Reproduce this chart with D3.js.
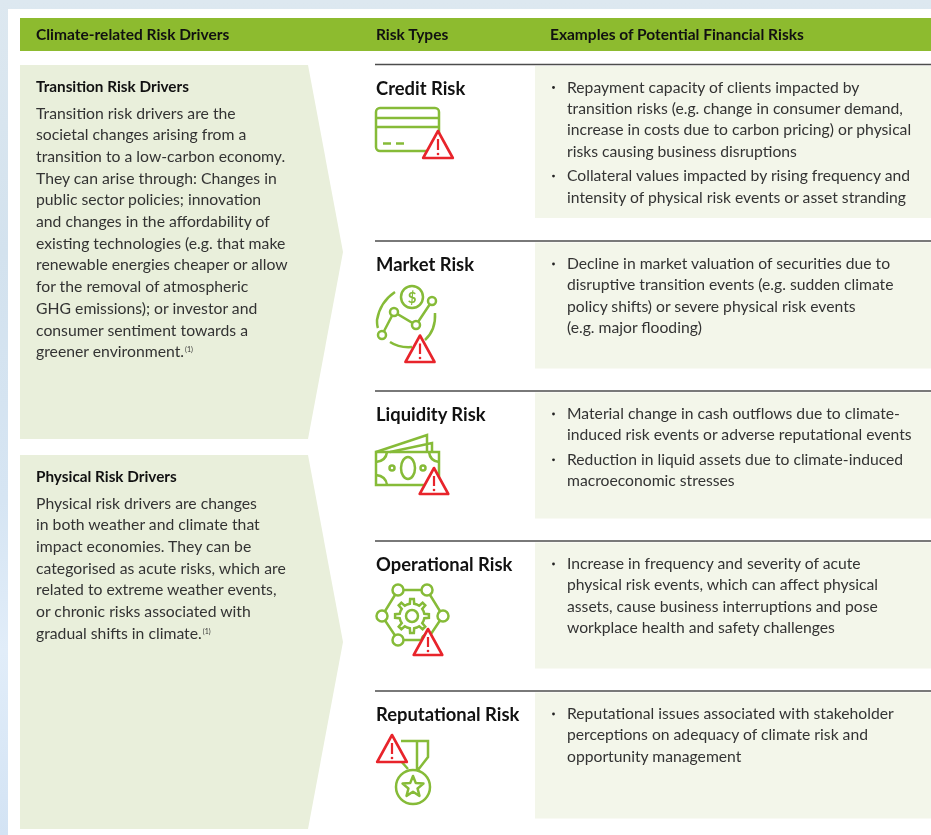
<!DOCTYPE html>
<html>
<head>
<meta charset="utf-8">
<script src="https://cdn.jsdelivr.net/npm/d3@7"></script>
<style>
html, body { margin: 0; padding: 0; background: #fff; overflow: hidden; }
svg { display: block; filter: blur(0.45px); }
text { font-family: Lato, "Noto Sans", sans-serif; }
</style>
</head>
<body>
<svg id="chart" width="931" height="835"></svg>
<script>
const COLUMN_HEADERS = ['Climate-related Risk Drivers', 'Risk Types', 'Examples of Potential Financial Risks'];

const DRIVER_TITLES = ['Transition Risk Drivers', 'Physical Risk Drivers'];
const TRANSITION_LINES = [
    'Transition risk drivers are the',
    'societal changes arising from a',
    'transition to a low-carbon economy.',
    'They can arise through: Changes in',
    'public sector policies; innovation',
    'and changes in the affordability of',
    'existing technologies (e.g. that make',
    'renewable energies cheaper or allow',
    'for the removal of atmospheric',
    'GHG emissions); or investor and',
    'consumer sentiment towards a',
    'greener environment.'
];
const PHYSICAL_LINES = [
    'Physical risk drivers are changes',
    'in both weather and climate that',
    'impact economies. They can be',
    'categorised as acute risks, which are',
    'related to extreme weather events,',
    'or chronic risks associated with',
    'gradual shifts in climate.'
];
const FOOTNOTE = '(1)';

const RISK_TYPES = ['Credit Risk', 'Market Risk', 'Liquidity Risk', 'Operational Risk', 'Reputational Risk'];
// one inner list per bullet
const CREDIT_BULLETS = [
    ['Repayment capacity of clients impacted by',
     'transition risks (e.g. change in consumer demand,',
     'increase in costs due to carbon pricing) or physical',
     'risks causing business disruptions'],
    ['Collateral values impacted by rising frequency and',
     'intensity of physical risk events or asset stranding']
];
const MARKET_BULLETS = [
    ['Decline in market valuation of securities due to',
     'disruptive transition events (e.g. sudden climate',
     'policy shifts) or severe physical risk events',
     '(e.g. major flooding)']
];
const LIQUIDITY_BULLETS = [
    ['Material change in cash outflows due to climate-',
     'induced risk events or adverse reputational events'],
    ['Reduction in liquid assets due to climate-induced',
     'macroeconomic stresses']
];
const OPERATIONAL_BULLETS = [
    ['Increase in frequency and severity of acute',
     'physical risk events, which can affect physical',
     'assets, cause business interruptions and pose',
     'workplace health and safety challenges']
];
const REPUTATIONAL_BULLETS = [
    ['Reputational issues associated with stakeholder',
     'perceptions on adequacy of climate risk and',
     'opportunity management']
];
const RISK_BULLETS = [CREDIT_BULLETS, MARKET_BULLETS, LIQUIDITY_BULLETS, OPERATIONAL_BULLETS, REPUTATIONAL_BULLETS];

const GREEN = '#86bb38';
const RED = '#e8242b';
const TEXT = '#333333';
const DARK = '#111111';

const svg = d3.select('#chart');

// backdrop
const defs = svg.append('defs');
const bg = defs.append('linearGradient').attr('id', 'bg').attr('x1', 0).attr('x2', 0).attr('y1', 0).attr('y2', 1);
[['0%', '#dde8f0'], ['30%', '#d3e2ee'], ['60%', '#d6e5f3'], ['78%', '#e1edf9'], ['100%', '#d3e3f4']].forEach(([o, c]) => {
    bg.append('stop').attr('offset', o).attr('stop-color', c);
});
svg.append('rect').attr('width', 931).attr('height', 835).attr('fill', 'url(#bg)');
svg.append('rect').attr('x', 8).attr('y', 9).attr('width', 923).attr('height', 826).attr('fill', '#fff');

// header bar
svg.append('rect').attr('x', 20).attr('y', 18).attr('width', 911).attr('height', 33).attr('fill', '#8dbb2f');
svg.selectAll('.col-head')
    .data(COLUMN_HEADERS)
    .join('text')
    .attr('class', 'col-head')
    .attr('x', (d, i) => [36, 376, 550][i])
    .attr('y', 40)
    .attr('font-size', 15.5)
    .attr('font-weight', 700)
    .attr('fill', DARK)
    .text(d => d);

// driver arrows
function drawDriver(top, title, lines) {
    const h = 374;
    const g = svg.append('g').attr('transform', `translate(0,${top})`);
    g.append('path')
        .attr('d', `M20,0H308L343,${h / 2}L308,${h}H20Z`)
        .attr('fill', '#e9efdb');
    g.append('text')
        .attr('x', 36).attr('y', 27)
        .attr('font-size', 15.3).attr('font-weight', 700).attr('fill', DARK)
        .text(title);
    const body = g.selectAll('.line').data(lines).join('text')
        .attr('class', 'line')
        .attr('x', 36)
        .attr('y', (d, i) => 53.5 + i * 21.7)
        .attr('font-size', 15.75)
        .attr('fill', TEXT)
        .text(d => d);
    body.filter((d, i) => i === lines.length - 1)
        .append('tspan')
        .attr('dx', 1).attr('dy', -5)
        .attr('font-size', 7)
        .text(FOOTNOTE);
}
drawDriver(65, DRIVER_TITLES[0], TRANSITION_LINES);
drawDriver(455, DRIVER_TITLES[1], PHYSICAL_LINES);

// risk rows
const rowY = [64.5, 241, 391, 541, 691];
const rowH = [152, 126, 126, 126, 126];

function warning(g, cx, top, bottom) {
    const w = (bottom - top) * 0.55;
    g.append('path')
        .attr('d', `M${cx},${top}L${cx + w},${bottom}H${cx - w}Z`)
        .attr('fill', '#fff').attr('stroke', RED).attr('stroke-width', 2.6).attr('stroke-linejoin', 'round');
    g.append('line')
        .attr('x1', cx).attr('x2', cx).attr('y1', top + 8).attr('y2', bottom - 8)
        .attr('stroke', RED).attr('stroke-width', 2.2);
    g.append('circle').attr('cx', cx).attr('cy', bottom - 4).attr('r', 1.3).attr('fill', RED);
}

function icon(g) {
    return g.append('g').attr('fill', 'none').attr('stroke', GREEN).attr('stroke-width', 2.5);
}

function creditIcon(g) {
    const c = icon(g);
    c.append('rect').attr('x', 376).attr('y', 108).attr('width', 63).attr('height', 43).attr('rx', 4);
    c.append('path').attr('d', 'M376,118H439M376,127H439M383,143.500H391M396,143.500H404');
    warning(g, 438, 131, 158);
}

function marketIcon(g) {
    const c = icon(g);
    c.append('circle').attr('cx', 412).attr('cy', 297).attr('r', 11);
    c.append('text').attr('x', 412).attr('y', 302.500).attr('text-anchor', 'middle')
        .attr('font-size', 15).attr('fill', GREEN).attr('stroke', 'none').attr('font-weight', 700).text('$');
    c.append('path').attr('d', 'M395,292Q380,302 377,320Q377,326 378,328');
    c.append('path').attr('d', 'M435,313Q436,330 425,340');
    c.append('path').attr('d', 'M390,342Q399,348 412,347');
    c.append('path').attr('d', 'M382,335L394,312L416,325L432,301');
    [[382, 335], [394, 312], [416, 325], [432, 301]].forEach(([x, y]) => {
        c.append('circle').attr('cx', x).attr('cy', y).attr('r', 4).attr('fill', '#fff');
    });
    warning(g, 420, 335.500, 362);
}

function liquidityIcon(g) {
    const c = icon(g);
    c.append('path').attr('d', 'M376,452L427,435V452M390,452L432,443V452');
    c.append('rect').attr('x', 376).attr('y', 452).attr('width', 63).attr('height', 33);
    c.append('path').attr('d', 'M376,462Q386,461 387,452M429,452Q430,461 439,462M376,475Q386,476 387,485');
    c.append('ellipse').attr('cx', 408).attr('cy', 468).attr('rx', 7).attr('ry', 11);
    c.append('circle').attr('cx', 392).attr('cy', 468).attr('r', 2.5);
    c.append('circle').attr('cx', 423).attr('cy', 468).attr('r', 2.5);
    warning(g, 434, 468, 494);
}

function gearPath(cx, cy, rOut, rIn, teeth) {
    const p = d3.path();
    const step = 2 * Math.PI / teeth;
    for (let i = 0; i < teeth; i++) {
        const a = i * step;
        const pts = [[rIn, a - step * 0.5], [rIn, a - step * 0.22], [rOut, a - step * 0.14], [rOut, a + step * 0.14], [rIn, a + step * 0.22]];
        pts.forEach(([r, t], j) => {
            const x = cx + r * Math.cos(t);
            const y = cy + r * Math.sin(t);
            if (i === 0 && j === 0) p.moveTo(x, y); else p.lineTo(x, y);
        });
    }
    p.closePath();
    return p.toString();
}

function operationalIcon(g) {
    const c = icon(g);
    const nodes = [[398, 590], [427, 590], [443, 616], [427, 640], [398, 640], [382, 616]];
    c.append('path').attr('d', d3.line()(nodes) + 'Z');
    nodes.forEach(([x, y]) => {
        c.append('circle').attr('cx', x).attr('cy', y).attr('r', 5.500).attr('fill', '#fff');
    });
    c.append('path').attr('d', gearPath(412, 616, 17, 12.5, 8));
    c.append('circle').attr('cx', 412).attr('cy', 616).attr('r', 6);
    warning(g, 428, 629, 655);
}

function reputationalIcon(g) {
    const c = icon(g);
    c.append('path').attr('d', 'M401,741H428V757L418,770M417,741V770M400,760L408,769');
    c.append('circle').attr('cx', 413).attr('cy', 787).attr('r', 17);
    const star = d3.range(10).map(i => {
        const r = i % 2 ? 4.8 : 11;
        const a = i * Math.PI / 5;
        return [r * Math.sin(a), -r * Math.cos(a)];
    });
    c.append('path').attr('transform', 'translate(413,787)')
        .attr('d', d3.line()(star) + 'Z').attr('stroke-linejoin', 'round');
    warning(g, 392, 735, 762);
}

const ICONS = [creditIcon, marketIcon, liquidityIcon, operationalIcon, reputationalIcon];
const LEAD = 21.4;

RISK_TYPES.forEach((risk, r) => {
    const top = rowY[r];
    svg.append('rect').attr('x', 535).attr('y', top + 1.5).attr('width', 396).attr('height', rowH[r]).attr('fill', '#f3f6ea');
    svg.append('line').attr('x1', 375).attr('x2', 931).attr('y1', top).attr('y2', top)
        .attr('stroke', '#4d4d4d').attr('stroke-width', 1.6);
    svg.append('text')
        .attr('x', 376).attr('y', top + 30)
        .attr('font-size', 18.4).attr('font-weight', 700).attr('fill', DARK)
        .text(risk);
    ICONS[r](svg.append('g'));

    let y = top + 28;
    RISK_BULLETS[r].forEach(bullet => {
        svg.append('circle').attr('cx', 553.500).attr('cy', y - 5).attr('r', 1.4).attr('fill', '#222');
        bullet.forEach(line => {
            svg.append('text')
                .attr('x', 567).attr('y', y)
                .attr('font-size', 15.7).attr('fill', TEXT)
                .text(line);
            y += LEAD;
        });
        y += 3;
    });
});
</script>
</body>
</html>
